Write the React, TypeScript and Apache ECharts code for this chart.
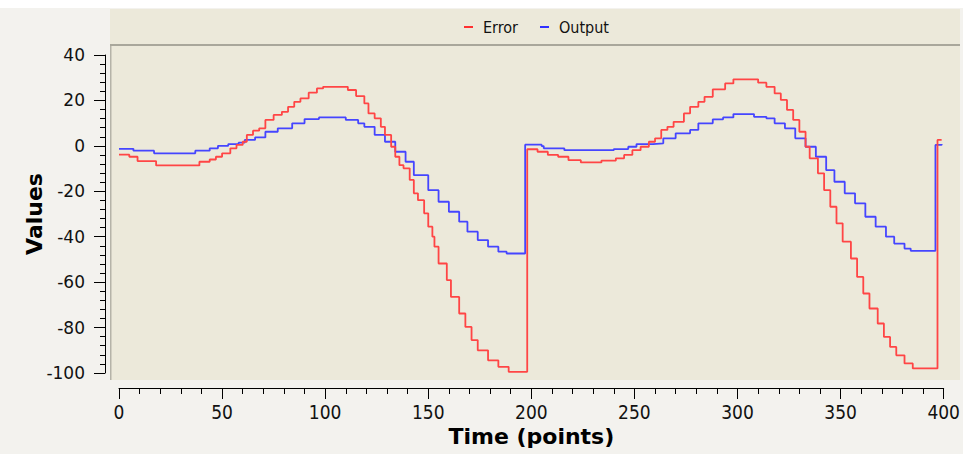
import React, { useEffect, useRef } from 'react';
import * as echarts from 'echarts';

// Error series (red): step points [time, value]
const errorT = [0, 5, 9, 18, 39, 44, 47, 50, 54, 57, 60, 62, 65, 68, 71, 75, 79, 82, 85, 88, 92, 96, 99, 111, 115, 119, 121, 124, 127, 129, 132, 134, 136, 138, 141, 143, 145, 148, 150, 152, 153, 155, 159, 161, 165, 168, 171, 174, 179, 184, 189, 198, 203, 208, 213, 218, 224, 234, 241, 245, 249, 253, 257, 260, 263, 266, 269, 274, 277, 281, 284, 288, 294, 298, 310, 314, 318, 321, 324, 327, 330, 333, 335, 339, 342, 345, 348, 351, 355, 358, 361, 364, 368, 371, 374, 377, 381, 385, 397, 399];
const errorV = [-3.9, -4.8, -6.7, -8.6, -7.0, -6.0, -4.8, -3.3, -1.1, 0.4, 1.8, 4.8, 6.7, 7.7, 11.4, 13.6, 15.0, 17.2, 19.4, 20.9, 23.4, 25.3, 26.0, 24.6, 21.9, 18.7, 14.3, 12.1, 8.4, 4.8, -0.4, -4.8, -8.5, -9.9, -15.0, -20.9, -23.9, -29.7, -35.6, -40.0, -44.4, -51.8, -59.1, -66.5, -73.8, -79.7, -85.5, -90.0, -94.4, -97.3, -99.5, -1.5, -2.6, -4.0, -4.8, -6.3, -7.3, -6.5, -5.5, -4.0, -1.9, -0.4, 1.8, 3.3, 7.0, 8.4, 10.6, 14.3, 17.2, 19.4, 21.6, 24.9, 27.5, 29.3, 27.8, 26.0, 23.1, 20.2, 15.8, 11.4, 6.2, -0.4, -5.5, -12.1, -19.5, -26.8, -34.1, -42.2, -49.6, -57.7, -65.0, -71.6, -78.2, -84.1, -88.5, -92.2, -95.8, -98.0, 2.6, 2.6];

// Output series (blue): step points [time, value]
const outputT = [0, 7, 17, 37, 44, 48, 53, 58, 61, 66, 71, 77, 84, 90, 97, 110, 116, 119, 124, 129, 134, 139, 143, 150, 155, 160, 165, 169, 174, 179, 184, 188, 197, 205, 206, 216, 240, 247, 251, 259, 264, 270, 277, 281, 288, 293, 298, 308, 314, 318, 323, 328, 333, 338, 343, 347, 352, 357, 362, 367, 372, 376, 381, 384, 396, 399];
const outputV = [-1.3, -2.1, -3.3, -2.1, -1.1, 0.0, 0.8, 1.4, 2.6, 3.7, 6.2, 7.7, 9.9, 11.8, 12.5, 11.4, 9.9, 8.4, 4.8, 1.8, -2.6, -7.0, -12.9, -19.5, -24.6, -29.0, -33.4, -37.8, -41.5, -44.4, -46.6, -47.4, 0.5, -0.1, -1.1, -1.9, -1.4, -0.4, 0.8, 1.1, 3.3, 5.5, 7.0, 9.9, 11.7, 12.5, 14.0, 12.8, 12.1, 9.9, 7.7, 3.3, -0.4, -4.8, -10.7, -15.8, -20.9, -25.3, -31.2, -35.6, -40.0, -43.0, -45.2, -46.2, 0.4, 0.8];

const seriesNames = ['Error', 'Output'];
const xMin = 0;
const xMax = 400;
const xStep = 50;
const yMin = -100;
const yMax = 40;
const yStep = 20;

export default function App() {
  const ref = useRef<HTMLDivElement>(null);

  useEffect(() => {
    if (!ref.current) return;
    const chart = echarts.init(ref.current, null, { renderer: 'svg' });
    const labelColor = '#111111';
    const condensed = "'DejaVu Sans Condensed', 'Liberation Sans Narrow', 'DejaVu Sans', sans-serif";
    const option = {
      animation: false,
      backgroundColor: '#F3F2EE',
      graphic: [
        { type: 'rect', z: -10, silent: true, shape: { x: 0, y: 0, width: 963, height: 8 }, style: { fill: '#FFFFFF' } },
        { type: 'rect', z: -10, silent: true, shape: { x: 110, y: 9, width: 850, height: 36 }, style: { fill: '#ECE9DA' } },
        { type: 'rect', z: -10, silent: true, shape: { x: 110, y: 44, width: 850, height: 2 }, style: { fill: '#A9A79B' } },
        { type: 'rect', z: -10, silent: true, shape: { x: 110, y: 46, width: 850, height: 334 }, style: { fill: '#ECE9DA' } },
        { type: 'rect', z: -10, silent: true, shape: { x: 110, y: 46, width: 1.5, height: 334 }, style: { fill: '#B5B3A8' } },
      ],
      legend: {
        data: seriesNames,
        left: 459,
        top: 14,
        icon: 'rect',
        itemWidth: 9,
        itemHeight: 2,
        itemGap: 22,
        textStyle: {
          fontFamily: condensed,
          fontSize: 16,
          color: '#111111',
          padding: [0, 0, 0, 5],
        },
      },
      grid: { left: 119, right: 16, top: 55, bottom: 81, containLabel: false },
      xAxis: {
        type: 'value',
        min: xMin,
        max: xMax,
        interval: xStep,
        offset: 15,
        axisLine: { show: true, onZero: false, lineStyle: { color: '#000000', width: 1 } },
        axisTick: { show: true, length: 11, lineStyle: { color: '#000000', width: 1 } },
        minorTick: { show: true, splitNumber: 5, length: 6, lineStyle: { color: '#000000', width: 1 } },
        splitLine: { show: false },
        minorSplitLine: { show: false },
        axisLabel: {
          margin: 14,
          color: labelColor,
          fontSize: 19,
          fontFamily: condensed,
        },
        name: 'Time (points)',
        nameLocation: 'middle',
        nameGap: 37,
        nameMoveOverlap: false,
        nameTextStyle: {
          color: '#000000',
          fontSize: 22,
          fontWeight: 'bold',
          fontFamily: "'DejaVu Sans', sans-serif",
        },
      },
      yAxis: {
        type: 'value',
        min: yMin,
        max: yMax,
        interval: yStep,
        offset: 14,
        axisLine: { show: true, onZero: false, lineStyle: { color: '#000000', width: 1 } },
        axisTick: { show: true, length: 11, lineStyle: { color: '#000000', width: 1 } },
        minorTick: { show: true, splitNumber: 5, length: 5, lineStyle: { color: '#000000', width: 1 } },
        splitLine: { show: false },
        minorSplitLine: { show: false },
        axisLabel: {
          margin: 20,
          color: labelColor,
          fontSize: 17,
          fontFamily: "'DejaVu Sans', sans-serif",
        },
        name: 'Values',
        nameLocation: 'middle',
        nameGap: 60,
        nameMoveOverlap: false,
        nameTextStyle: {
          color: '#000000',
          fontSize: 22,
          fontWeight: 'bold',
          fontFamily: "'DejaVu Sans', sans-serif",
        },
      },
      series: [
        {
          name: seriesNames[0],
          type: 'line',
          step: 'end',
          symbol: 'none',
          showSymbol: false,
          data: errorT.map((t, i) => [t, errorV[i]]),
          lineStyle: { color: '#FF4545', width: 1.8 },
          itemStyle: { color: '#FF3030' },
          z: 3,
        },
        {
          name: seriesNames[1],
          type: 'line',
          step: 'end',
          symbol: 'none',
          showSymbol: false,
          data: outputT.map((t, i) => [t, outputV[i]]),
          lineStyle: { color: '#4545FF', width: 1.8 },
          itemStyle: { color: '#3030FF' },
          z: 2,
        },
      ],
    };
    chart.setOption(option as any);
    return () => chart.dispose();
  }, []);

  return (
    <div
      ref={ref}
      style={{ position: 'fixed', left: 0, top: 0, width: 963, height: 454 }}
    />
  );
}
